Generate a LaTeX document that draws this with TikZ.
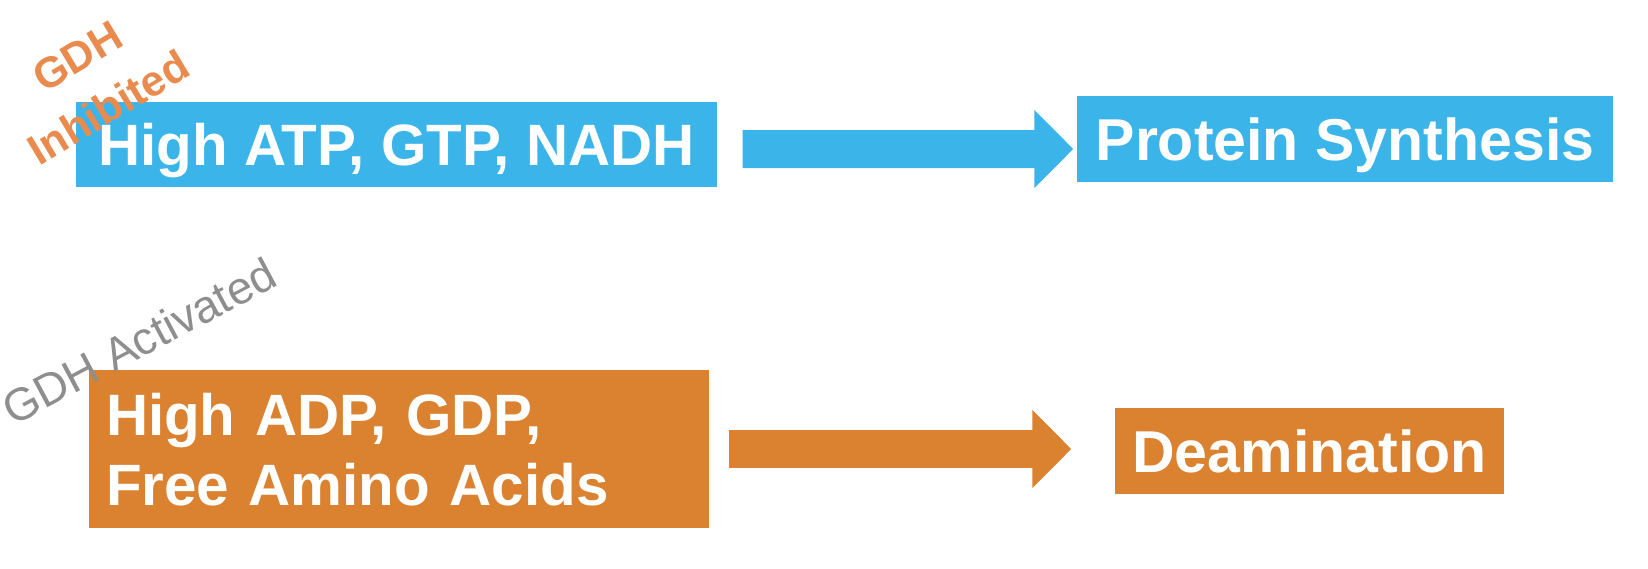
\documentclass[tikz,border=0pt]{standalone}
\usepackage{fontspec}
\setmainfont{Liberation Sans}
\usetikzlibrary{arrows.meta}
\definecolor{gdhblue}{RGB}{59,181,233}
\definecolor{gdhorange}{RGB}{218,130,48}
\definecolor{labelorange}{RGB}{233,139,78}
\definecolor{labelgray}{RGB}{142,142,142}

\begin{document}
\begin{tikzpicture}[
    box/.style={fill=#1, text=white, inner sep=0pt, text depth=0pt,
      font=\bfseries\fontsize{16.8}{19.9}\selectfont},
    fatarrow/.style={draw=#1, line width=0.38cm, -{Triangle[width=0.76cm,length=0.39cm]}}
  ]
    % Canvas
    \useasboundingbox[fill=white] (0,0) rectangle (16.48,5.68);

    % Top row: high energy
    \node[box=gdhblue, minimum width=6.41cm, minimum height=0.85cm, text height=0.41cm,
      font=\bfseries\fontsize{16.6}{19.9}\selectfont] (atp) at (3.965,4.235) {High ATP, GTP, NADH};
    \node[box=gdhblue, minimum width=5.36cm, minimum height=0.86cm, text height=0.42cm] (prot) at (13.45,4.29) {Protein Synthesis};
    \draw[fatarrow=gdhblue] ([xshift=0.25cm,yshift=-0.045cm]atp.east) -- ([xshift=-0.03cm,yshift=-0.10cm]prot.west);

    % Bottom row: low energy
    \node[box=gdhorange, minimum width=6.20cm, minimum height=1.58cm, inner xsep=0.17cm,
      text width=5.86cm, align=left, text height=0.43cm, text depth=0.70cm,
      font=\bfseries\fontsize{16.6}{19.9}\selectfont] (adp) at (3.99,1.19) {High ADP, GDP,\\Free Amino Acids};
    \node[box=gdhorange, minimum width=3.89cm, minimum height=0.86cm, text height=0.42cm] (deam) at (13.095,1.17) {Deamination};
    \draw[fatarrow=gdhorange] ([xshift=0.19cm]adp.east) -- ([xshift=-0.43cm,yshift=0.02cm]deam.west);

    % Rotated notes
    \node[rotate=31, align=center, text=labelorange, font=\bfseries\fontsize{12.2}{17}\selectfont] (inhib) at (0.93,4.86) {GDH\\Inhibited};
    \node[rotate=28, text=labelgray, font=\fontsize{13}{15}\selectfont] (activ) at (1.39,2.27) {GDH Activated};
\end{tikzpicture}
\end{document}
